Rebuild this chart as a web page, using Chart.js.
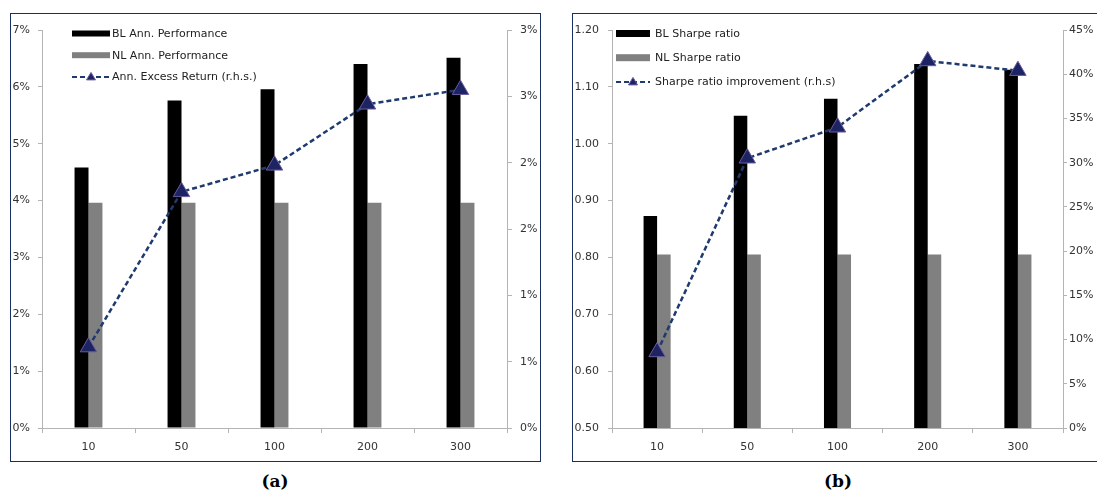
<!DOCTYPE html>
<html><head><meta charset="utf-8">
<script src="https://cdn.jsdelivr.net/npm/chart.js@4/dist/chart.umd.min.js"></script>
<style>
html,body{margin:0;padding:0;background:#fff;overflow:hidden;width:1097px;height:493px;}
.panel{position:absolute;border:1px solid #1a2f60;background:#fff;}
#pa{left:10px;top:13px;width:529px;height:447px;}
#pb{left:572px;top:13px;width:560px;height:447px;}
canvas{position:absolute;left:0;top:0;}
.cap{position:absolute;font-family:"DejaVu Serif";font-weight:bold;font-size:17px;color:#000;transform:translateX(-50%);top:471px;line-height:20px;white-space:nowrap;}
</style></head>
<body>
<div class="panel" id="pa"><canvas id="ca" width="529" height="447"></canvas></div>
<div class="panel" id="pb"><canvas id="cb" width="540" height="447"></canvas></div>
<div class="cap" style="left:275px;">(a)</div>
<div class="cap" style="left:838px;">(b)</div>
<script>
const categories = ['10', '50', '100', '200', '300'];
// Panel (a)
const blPerformance = [4.58, 5.76, 5.96, 6.40, 6.51];
const nlPerformance = [3.96, 3.96, 3.96, 3.96, 3.96];
const excessReturn = [0.61, 1.78, 1.98, 2.44, 2.55];
const ticksALeft = ['0%', '1%', '2%', '3%', '4%', '5%', '6%', '7%'];
const ticksARight = ['0%', '1%', '1%', '2%', '2%', '3%', '3%'];
// Panel (b)
const blSharpe = [0.873, 1.049, 1.079, 1.140, 1.130];
const nlSharpe = [0.805, 0.805, 0.805, 0.805, 0.805];
const sharpeImprovement = [8.6, 30.5, 34.0, 41.5, 40.4];
const ticksBLeft = ['0.50', '0.60', '0.70', '0.80', '0.90', '1.00', '1.10', '1.20'];
const ticksBRight = ['0%', '5%', '10%', '15%', '20%', '25%', '30%', '35%', '40%', '45%'];

Chart.defaults.font.family = '"DejaVu Sans", Verdana, sans-serif';
Chart.defaults.font.size = 11;
Chart.defaults.color = '#333';

const AXIS = '#b4b4b4';
const LINE = '#1f3a6e';

const legendPlugin = {
  id: 'insideLegend',
  afterDraw(chart, args, o) {
    const ctx = chart.ctx;
    ctx.save();
    ctx.font = '11px "DejaVu Sans"';
    ctx.textBaseline = 'middle';
    chart.data.datasets.forEach((ds, i) => {
      const y = o.y0 + i * o.dy;
      if (ds.type === 'line') {
        ctx.strokeStyle = ds.borderColor;
        ctx.lineWidth = 2;
        ctx.setLineDash([5, 3]);
        ctx.beginPath(); ctx.moveTo(o.x, y); ctx.lineTo(o.x + o.w, y); ctx.stroke();
        ctx.setLineDash([]);
        const cx = o.x + o.w / 2;
        ctx.fillStyle = ds.pointBackgroundColor;
        ctx.strokeStyle = ds.pointBorderColor;
        ctx.lineWidth = 1;
        ctx.beginPath();
        ctx.moveTo(cx, y - 4.5); ctx.lineTo(cx + 4.5, y + 3); ctx.lineTo(cx - 4.5, y + 3); ctx.closePath();
        ctx.fill(); ctx.stroke();
      } else {
        ctx.fillStyle = ds.backgroundColor;
        ctx.fillRect(o.x, y - o.h / 2, o.w, o.h);
      }
      ctx.fillStyle = '#222';
      ctx.fillText(ds.label, o.tx, y + 0.5);
    });
    ctx.restore();
  }
};

function yScale(pos, min, max, step, labels, width, pad, tick) {
  return {
    type: 'linear', position: pos, min: min, max: max,
    ticks: { stepSize: step, autoSkip: false, padding: pad, color: '#333',
      callback: (v, i) => labels[i] },
    grid: { drawOnChartArea: false, drawTicks: true, tickLength: tick, color: AXIS },
    border: { color: AXIS, width: 1 },
    afterFit: s => { s.width = width; }
  };
}
function xScale(height) {
  return {
    type: 'category', offset: true,
    ticks: { padding: 8, color: '#333', autoSkip: false, maxRotation: 0 },
    grid: { offset: true, drawOnChartArea: false, drawTicks: true, tickLength: 5, color: AXIS },
    border: { color: AXIS, width: 1 },
    afterFit: s => { s.height = height; }
  };
}
function barDs(label, data, color, order) {
  return { type: 'bar', label: label, data: data, backgroundColor: color, borderWidth: 0,
    categoryPercentage: 0.3, barPercentage: 1.0, yAxisID: 'y', order: order };
}
function lineDs(label, data) {
  return { type: 'line', label: label, data: data, yAxisID: 'y1', order: 0,
    borderColor: LINE, borderWidth: 2.5, borderDash: [5, 3], fill: false, tension: 0,
    pointStyle: 'triangle', pointRadius: 9.5, pointBackgroundColor: '#1c2463',
    pointBorderColor: '#6b5b9e', pointBorderWidth: 1 };
}

new Chart(document.getElementById('ca'), {
  data: {
    labels: categories,
    datasets: [
      barDs('BL Ann. Performance', blPerformance, '#000000', 1),
      barDs('NL Ann. Performance', nlPerformance, '#808080', 2),
      lineDs('Ann. Excess Return (r.h.s.)', excessReturn)
    ]
  },
  options: {
    responsive: false, animation: false, events: [],
    layout: { padding: { top: 16, bottom: 0, left: 0, right: 0 } },
    plugins: { legend: { display: false }, tooltip: { enabled: false },
      insideLegend: { x: 61, w: 38, h: 6, tx: 101, y0: 19.5, dy: 21.7 } },
    scales: {
      x: xScale(33),
      y: yScale('left', 0, 7, 1, ticksALeft, 31, 8, 4),
      y1: yScale('right', 0, 3, 0.5, ticksARight, 33, 8, 5)
    }
  },
  plugins: [legendPlugin]
});

new Chart(document.getElementById('cb'), {
  data: {
    labels: categories,
    datasets: [
      barDs('BL Sharpe ratio', blSharpe, '#000000', 1),
      barDs('NL Sharpe ratio', nlSharpe, '#808080', 2),
      lineDs('Sharpe ratio improvement (r.h.s)', sharpeImprovement)
    ]
  },
  options: {
    responsive: false, animation: false, events: [],
    layout: { padding: { top: 16, bottom: 0, left: 0, right: 0 } },
    plugins: { legend: { display: false }, tooltip: { enabled: false },
      insideLegend: { x: 43, w: 34, h: 7, tx: 82, y0: 19.5, dy: 24.2 } },
    scales: {
      x: xScale(33),
      y: yScale('left', 0.5, 1.2, 0.1, ticksBLeft, 39, 9, 4),
      y1: yScale('right', 0, 45, 5, ticksBRight, 50, 2, 4)
    }
  },
  plugins: [legendPlugin]
});
</script>
</body></html>
